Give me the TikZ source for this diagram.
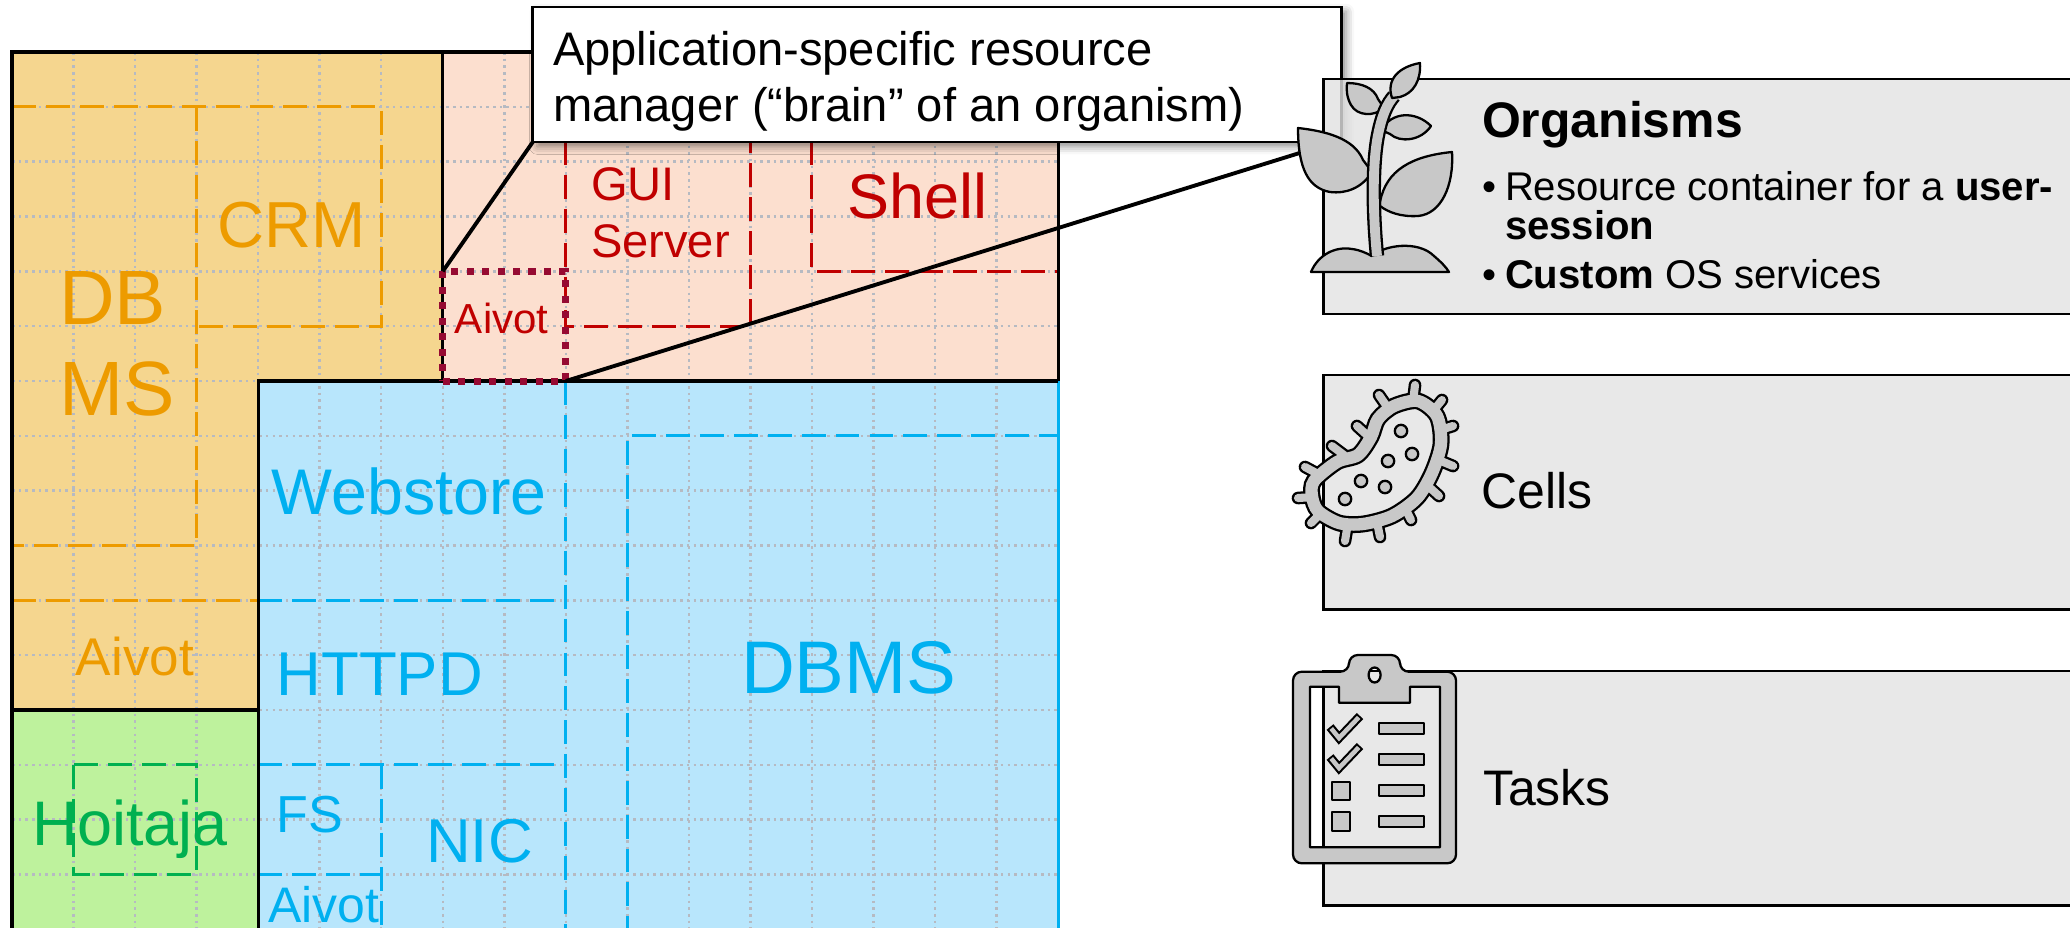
\documentclass[tikz,border=0pt]{standalone}
\usepackage{fontspec}
\setmainfont{Liberation Sans}
\usetikzlibrary{shadows.blur}

\definecolor{orgfill}{HTML}{F5D68F}
\definecolor{redfill}{HTML}{FCDFCF}
\definecolor{bluefill}{HTML}{B8E6FC}
\definecolor{grnfill}{HTML}{BEF29D}
\definecolor{orgink}{HTML}{ED9B00}
\definecolor{blueink}{HTML}{00B0F0}
\definecolor{grnink}{HTML}{00B050}
\definecolor{redink}{HTML}{C00000}
\definecolor{brainink}{HTML}{960A32}
\definecolor{gridink}{HTML}{B6BAC2}
\definecolor{panelfill}{HTML}{E2E2E2}
\definecolor{iconfill}{HTML}{C8C8C8}

\newcommand{\setfs}[2]{\fontsize{#1pt}{#2pt}\selectfont}

\begin{document}
\begin{tikzpicture}[x=0.01cm, y=-0.01cm,
  every node/.style={inner sep=0pt, outer sep=0pt},
  gridline/.style={gridink, line width=0.72pt, dash pattern=on 0.72pt off 1.18pt},
  part/.style={line width=0.85pt, dash pattern=on 6.8pt off 2.85pt},
  border/.style={line width=0.9pt},
  brainbox/.style={draw=brainink, line width=2pt, dash pattern=on 2pt off 2.4pt,
    minimum width=1.23cm, minimum height=1.096cm},
  callbox/.style={draw=black, line width=0.8pt, fill=white,
    minimum width=8.085cm, minimum height=1.35cm,
    blur shadow={shadow xshift=1.3pt, shadow yshift=-1.3pt, shadow blur radius=2.2pt, shadow opacity=45}},
  pointer/.style={line width=1.1pt},
  sidebox/.style={draw=black, line width=0.7pt, fill=panelfill, fill opacity=0.8,
    minimum width=7.614cm, minimum height=2.347cm},
  icon/.style={draw=black, fill=iconfill, line width=0.65pt, line join=round},
  lbl/.style={anchor=base}]

\useasboundingbox (0,0) rectangle (2070,927);

% ---------- the resource map, laid out on a 17 x 16 grid ----------
\begin{scope}[xshift=0.12cm, yshift=-0.52cm, x=0.615cm, y=-0.548cm]
  % areas
  \fill[orgfill] (0,0) -- (7,0) -- (7,6) -- (4,6) -- (4,12) -- (0,12) -- cycle;
  \fill[redfill] (7,0) rectangle (17,6);
  \fill[bluefill] (4,6) rectangle (17,16.2);
  \fill[grnfill] (0,12) rectangle (4,16.2);
  % dotted grid
  \foreach \i in {1,...,16} \draw[gridline] (\i,0) -- (\i,16.2);
  \foreach \j in {1,...,15} \draw[gridline] (0,\j) -- (17,\j);
  % orange parts
  \draw[part, orgink] (0,1) -- (6,1) -- (6,5) -- (3,5);
  \draw[part, orgink] (3,1) -- (3,9) -- (0,9);
  \draw[part, orgink] (0,10) -- (4,10);
  % green part
  \draw[part, grnink] (1,13) rectangle (3,15);
  % blue parts
  \draw[part, blueink] (4,10) -- (9,10);
  \draw[part, blueink] (9,6) -- (9,16.2);
  \draw[part, blueink] (10,16.2) -- (10,7) -- (17,7);
  \draw[part, blueink] (4,13) -- (9,13);
  \draw[part, blueink] (6,13) -- (6,16.2);
  \draw[part, blueink] (4,15) -- (6,15);
  % red parts
  \draw[part, redink] (9,1) -- (9,5) -- (12,5) -- (12,1);
  \draw[part, redink] (13,1) -- (13,4) -- (17,4);
  % outlines
  \draw[border] (0,16.2) -- (0,0) -- (17,0) -- (17,6);
  \draw[border, blueink] (17,6) -- (17,16.2);
  \draw[border] (7,0) -- (7,6);
  \draw[border] (4,16.2) -- (4,6) -- (17,6);
  \draw[border] (0,12) -- (4,12);
  % the brain of the red organism
  \node[brainbox] (brain) at (8,5) {};
\end{scope}

% ---------- labels (multi-line labels are anchored at their last baseline) ----------
\node[anchor=base west, align=left, text=orgink, font=\setfs{21.9}{25.6}] (dbms1) at (59,415) {DB\\MS};
\node[lbl, text=orgink, font=\setfs{18.5}{22}] (crm) at (292,247) {CRM};
\node[lbl, text=orgink, font=\setfs{15.1}{18}] (aivotorg) at (135,675.5) {Aivot};
\node[lbl, text=grnink, font=\setfs{17.9}{21}] (hoitaja) at (130,845) {Hoitaja};

\node[lbl, text=blueink, font=\setfs{18.35}{22}] (webstore) at (409.4,514) {Webstore};
\node[lbl, text=blueink, font=\setfs{17.6}{21}] (httpd) at (379.8,695) {HTTPD};
\node[lbl, text=blueink, font=\setfs{14.8}{18}] (fs) at (310,832) {FS};
\node[lbl, text=blueink, font=\setfs{17.6}{21}] (nic) at (479.6,862) {NIC};
\node[lbl, text=blueink, font=\setfs{14.2}{17}] (aivotblue) at (324,922) {Aivot};
\node[lbl, text=blueink, font=\setfs{21.2}{25}] (dbmsblue) at (848.8,693.3) {DBMS};

\node[anchor=base west, align=left, text=redink, font=\setfs{13.4}{16.2}] (gui) at (591,257) {GUI\\Server};
\node[lbl, text=redink, font=\setfs{17.9}{21}] (shell) at (917.5,218.3) {Shell};
\node[lbl, text=redink, font=\setfs{11.95}{14}] (aivotred) at (501.7,333.3) {Aivot};

% ---------- callout ----------
\node[callbox] (callout) at (937.25,74.5) {};
\node[anchor=base west, align=left, font=\setfs{13.4}{16.1}] (callouttext) at (553,121.7)
  {Application-specific resource\\manager (“brain” of an organism)};

% ---------- side panels (lightly see-through) ----------
\node[sidebox] (orgbox) at (1704.3,196.65) {};
\node[sidebox] (cellbox) at (1704.3,492.25) {};
\node[sidebox] (taskbox) at (1704.3,788.2) {};

\node[anchor=base west, font=\setfs{14.2}{17}\bfseries] (orgtitle) at (1482,137.3) {Organisms};
\node[anchor=base west, align=left, font=\setfs{11.4}{11.1}] (orglist) at (1505,288)
  {\llap{\makebox[6.5pt][l]{\textbullet}}Resource container for a \textbf{user-}\\
   \textbf{session}\\[2.56pt]
   \llap{\makebox[6.5pt][l]{\textbullet}}\textbf{Custom} OS services};
\node[anchor=base west, font=\setfs{14.2}{17}] (cells) at (1481.5,508.3) {Cells};
\node[anchor=base west, font=\setfs{14.2}{17}] (tasks) at (1483,805) {Tasks};

% ---------- pointers ----------
\coordinate (leafpt) at (1306,151);
\draw[pointer] (callout.south west) -- (brain.north west);
\draw[pointer] (brain.south east) -- (leafpt);

% ---------- plant icon ----------
\draw[icon] (1298,128) .. controls (1325,131) and (1354,138) .. (1363,160) -- (1372,172)
  .. controls (1362,188) and (1346,194) .. (1330,192)
  .. controls (1308,188) and (1298,168) .. (1298,128) -- cycle;
\draw[icon] (1380,202) .. controls (1386,170) and (1412,156) .. (1452,152)
  .. controls (1454,186) and (1441,214) .. (1418,216)
  .. controls (1400,217) and (1388,212) .. (1380,206) -- cycle;
\draw[icon] (1347,83) .. controls (1362,83) and (1374,88) .. (1378,99) -- (1384,108)
  .. controls (1374,117) and (1357,116) .. (1351,105)
  .. controls (1347,98) and (1346,90) .. (1347,83) -- cycle;
\draw[icon] (1381,130) .. controls (1392,111) and (1416,111) .. (1431,126)
  .. controls (1421,141) and (1400,143) .. (1390,134) -- cycle;
\draw[icon] (1311,272) .. controls (1318,255) and (1335,246) .. (1352,249)
  .. controls (1360,250) and (1366,253) .. (1372,256)
  .. controls (1384,245) and (1418,240) .. (1434,256)
  .. controls (1441,262) and (1446,267) .. (1449,272) -- cycle;
\draw[double=iconfill, double distance=2.8pt, line width=0.65pt]
  (1377,256) .. controls (1373,215) and (1372,165) .. (1378,135)
  .. controls (1382,115) and (1387,104) .. (1394,96);
\draw[icon] (1392,98) .. controls (1386,80) and (1398,67) .. (1420,63)
  .. controls (1421,80) and (1414,93) .. (1400,97) -- cycle;

% ---------- cell icon ----------
\def\membrane{(1314,481) (1337,462) (1358,455) (1371,437) (1378,419) (1394,406) (1418,401)
  (1437,416) (1441,444) (1432,473) (1417,498) (1392,516) (1363,524) (1339,523) (1318,511) (1312,496)}
\def\spikes{{1413,402}/{1415,385}, {1388,408}/{1379,395}, {1433,411}/{1442,400},
  {1368,436}/{1357,426}, {1440,430}/{1453,426}, {1344,455}/{1332,446},
  {1441,461}/{1453,466}, {1320,475}/{1305,467}, {1314,497}/{1298,498},
  {1428,486}/{1439,496}, {1322,512}/{1311,523}, {1405,508}/{1411,520},
  {1348,523}/{1345,541}, {1377,522}/{1380,537}}
\foreach \p/\q in \spikes \draw[line width=3.6pt, line cap=round] (\p) -- (\q);
\draw[line width=4.8pt] plot[smooth cycle] coordinates \membrane;
\foreach \p/\q in \spikes \draw[iconfill, line width=2.3pt, line cap=round] (\p) -- (\q);
\draw[iconfill, line width=3.5pt] plot[smooth cycle] coordinates \membrane;
\foreach \c in {{1401,431},{1412,454},{1388,461},{1361,481},{1385,487},{1345,499}}
  \draw[icon] (\c) circle[radius=6.2];

% ---------- clipboard icon ----------
\draw[icon, even odd rule] [rounded corners=2.5pt]
  (1293,671.7) -- (1349,671.7) -- (1349,655) -- (1400,655) -- (1400,671.7)
  -- (1456,671.7) -- (1456,863.3) -- (1293,863.3) -- cycle
  [sharp corners]
  (1374.6,675) circle[x radius=6, y radius=7.5]
  (1310,686.7) -- (1339,686.7) -- (1339,702.7) -- (1410,702.7) -- (1410,686.7)
  -- (1440,686.7) -- (1440,847.3) -- (1310,847.3) -- cycle;
\foreach \dy in {0,30} {
  \draw[line width=2.5pt, line join=miter] (1330,727+\dy) -- (1339,738+\dy) -- (1360,716+\dy);
  \draw[iconfill, line width=1.3pt, line join=miter, shorten <=0.55pt, shorten >=0.55pt]
    (1330,727+\dy) -- (1339,738+\dy) -- (1360,716+\dy);
}
\draw[icon] (1332,781.7) rectangle (1350,800);
\draw[icon] (1332,812) rectangle (1350,831);
\foreach \by in {723,754,785,816} \draw[icon] (1379,\by) rectangle (1424,\by+11);

\end{tikzpicture}
\end{document}
